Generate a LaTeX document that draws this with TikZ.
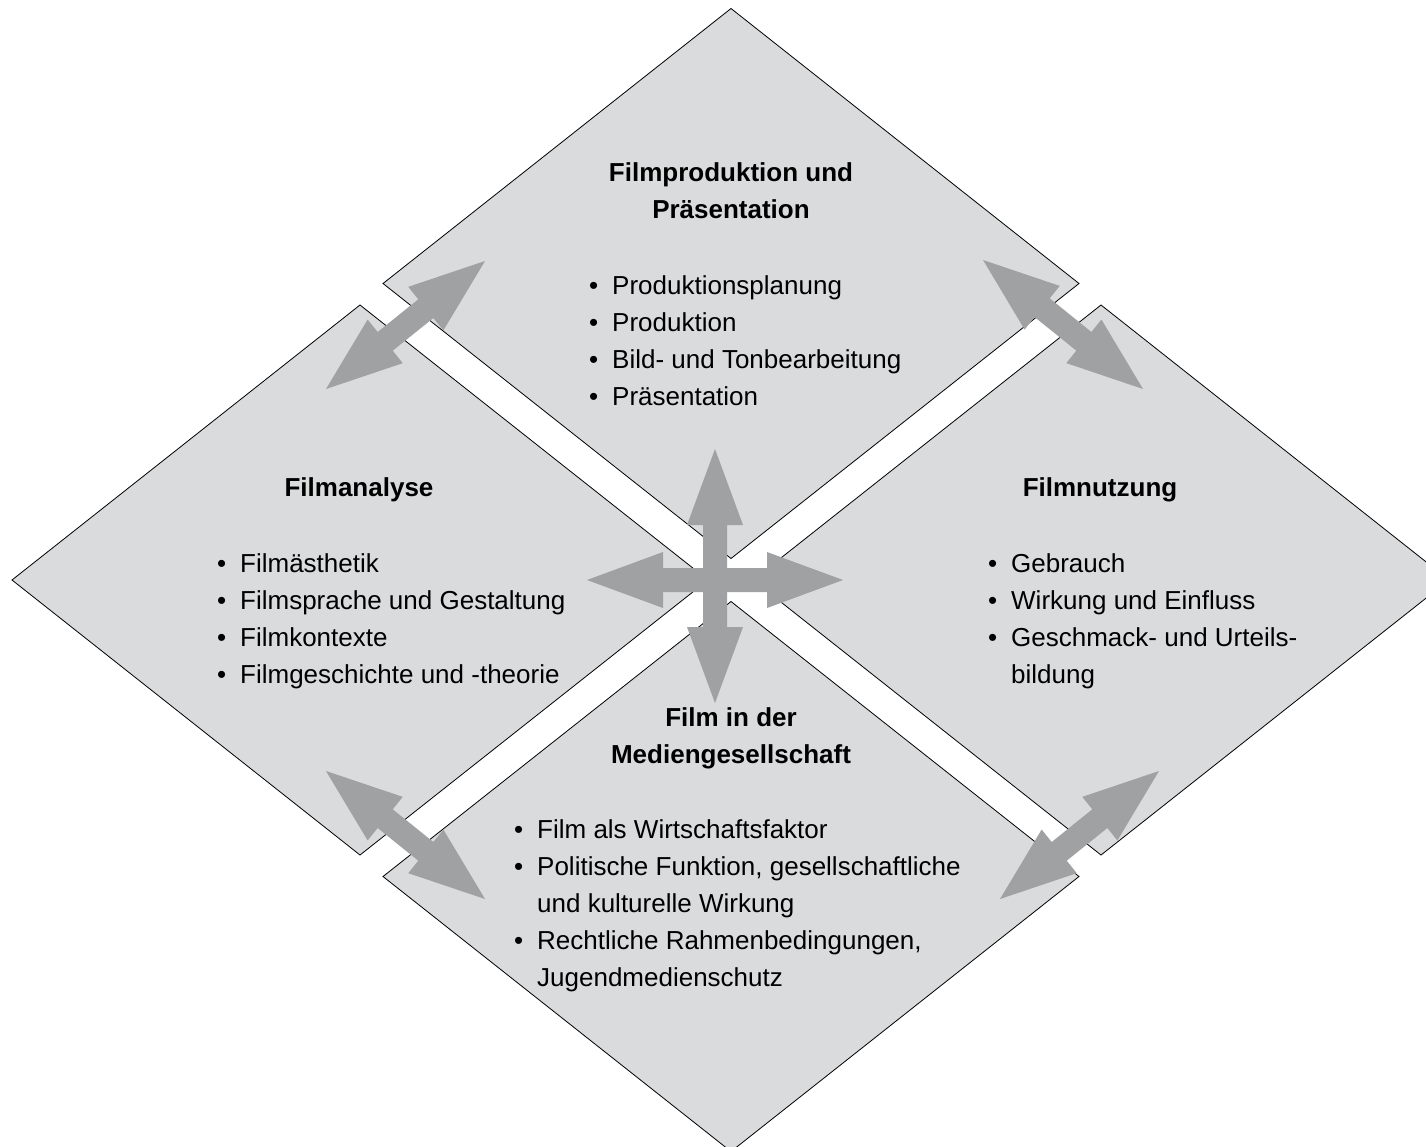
\documentclass[tikz,border=0pt]{standalone}
\usepackage{fontspec}
\setmainfont{Liberation Sans}
\usetikzlibrary{calc}
\definecolor{panel}{HTML}{DADBDD}
\definecolor{arrowgray}{HTML}{A0A1A3}
\tikzset{
  panelshape/.style={fill=panel, draw=black, line width=0.8pt, line join=miter},
  bigarrow/.style={fill=arrowgray, draw=none},
  titletext/.style={inner sep=0pt, anchor=base, font=\fontsize{26}{37}\selectfont\bfseries},
  itemtext/.style={inner sep=0pt, anchor=base west, font=\fontsize{26}{37}\selectfont},
}
\newcommand{\bul}{\makebox[23pt][l]{\textbullet}}
% double arrow between two named tips
\newcommand{\dblarrow}[2]{%
  \path[bigarrow]
    (#1)
    -- ($($(#1)!76pt!(#2)$)!28pt!90:(#2)$)
    -- ($($(#1)!76pt!(#2)$)!12pt!90:(#2)$)
    -- ($($(#2)!76pt!(#1)$)!12pt!-90:(#1)$)
    -- ($($(#2)!76pt!(#1)$)!28pt!-90:(#1)$)
    -- (#2)
    -- ($($(#2)!76pt!(#1)$)!28pt!90:(#1)$)
    -- ($($(#2)!76pt!(#1)$)!12pt!90:(#1)$)
    -- ($($(#1)!76pt!(#2)$)!12pt!-90:(#2)$)
    -- ($($(#1)!76pt!(#2)$)!28pt!-90:(#2)$)
    -- cycle;}
\begin{document}
\begin{tikzpicture}[x=1pt,y=-1pt]
\useasboundingbox (0,0) rectangle (1426,1146);
\clip (0,0) rectangle (1426,1146);
\fill[white] (0,0) rectangle (1426,1146);

% panels
\draw[panelshape] (731,8.5) -- (1079,283.5) -- (731,558.5) -- (383,283.5) -- cycle;
\draw[panelshape] (360,305) -- (708,580) -- (360,855) -- (12,580) -- cycle;
\draw[panelshape] (1101,305) -- (1449,580) -- (1101,855) -- (753,580) -- cycle;
\draw[panelshape] (731,601.5) -- (1079,876.5) -- (731,1151.5) -- (383,876.5) -- cycle;

% arrow tips
\coordinate (tlA) at (485,261);  \coordinate (tlB) at (326,389);
\coordinate (trA) at (983,260);  \coordinate (trB) at (1143,389);
\coordinate (blA) at (326,771);  \coordinate (blB) at (485,899);
\coordinate (brA) at (1159,771); \coordinate (brB) at (1000,899);
\coordinate (cvA) at (715,449);  \coordinate (cvB) at (715,703);
\coordinate (chA) at (587,580);  \coordinate (chB) at (843,580);

\dblarrow{tlA}{tlB}
\dblarrow{trA}{trB}
\dblarrow{blA}{blB}
\dblarrow{brA}{brB}
\dblarrow{cvA}{cvB}
\dblarrow{chA}{chB}

% top panel
\node[titletext] (t1) at (731,181) {Filmproduktion und};
\node[titletext] (t2) at (731,218) {Präsentation};
\node[itemtext] (t3) at (589,294) {\bul Produktionsplanung};
\node[itemtext] (t4) at (589,331) {\bul Produktion};
\node[itemtext] (t5) at (589,368) {\bul Bild- und Tonbearbeitung};
\node[itemtext] (t6) at (589,405) {\bul Präsentation};

% left panel
\node[titletext] (l1) at (359,496) {Filmanalyse};
\node[itemtext] (l2) at (217,572) {\bul Filmästhetik};
\node[itemtext] (l3) at (217,609) {\bul Filmsprache und Gestaltung};
\node[itemtext] (l4) at (217,646) {\bul Filmkontexte};
\node[itemtext] (l5) at (217,683) {\bul Filmgeschichte und -theorie};

% right panel
\node[titletext] (r1) at (1100,496) {Filmnutzung};
\node[itemtext] (r2) at (988,572) {\bul Gebrauch};
\node[itemtext] (r3) at (988,609) {\bul Wirkung und Einfluss};
\node[itemtext] (r4) at (988,646) {\bul Geschmack- und Urteils-};
\node[itemtext] (r5) at (1011,683) {bildung};

% bottom panel
\node[titletext] (b1) at (731,726) {Film in der};
\node[titletext] (b2) at (731,763) {Mediengesellschaft};
\node[itemtext] (b3) at (514,838) {\bul Film als Wirtschaftsfaktor};
\node[itemtext] (b4) at (514,875) {\bul Politische Funktion, gesellschaftliche};
\node[itemtext] (b5) at (537,912) {und kulturelle Wirkung};
\node[itemtext] (b6) at (514,949) {\bul Rechtliche Rahmenbedingungen,};
\node[itemtext] (b7) at (537,986) {Jugendmedienschutz};
\end{tikzpicture}
\end{document}
